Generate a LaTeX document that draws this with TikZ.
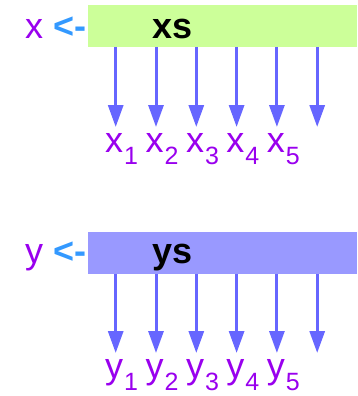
\documentclass[tikz,border=0pt]{standalone}
\usepackage{fontspec}
\setmainfont{Liberation Sans}
\usetikzlibrary{arrows.meta}
\definecolor{listgreen}{HTML}{CCFF99}
\definecolor{listblue}{HTML}{9999FF}
\definecolor{arrowblue}{HTML}{6666FF}
\definecolor{varpurple}{HTML}{9900EE}
\definecolor{opblue}{HTML}{3399FF}
\newcommand{\bigfont}{\fontsize{36}{36}\selectfont}
\newcommand{\subfont}{\fontsize{25}{25}\selectfont}
\newcommand{\elem}[2]{#1\hspace{1pt}{\subfont\raisebox{-12pt}{#2}}}

\begin{document}
\begin{tikzpicture}[x=1pt, y=-1pt,
  listbox/.style={inner sep=0pt, anchor=north west, minimum height=42pt, minimum width=269pt},
  lbl/.style={inner sep=0pt, anchor=base west, text=varpurple, font=\bigfont},
  unpack/.style={draw=arrowblue, line width=3pt, -{Triangle[width=15pt,length=22pt]}}]
\useasboundingbox (0,0) rectangle (357,396);

% x <- xs
\node[listbox, fill=listgreen]            (xs)   at (88,5)   {};
\node[inner sep=0pt, anchor=base west, font=\bigfont\bfseries] (xsname) at (152,38) {xs};
\node[lbl]                                (xvar) at (25,38)  {x \textcolor{opblue}{\bfseries<-}};

\node[lbl] (x1) at (105,152) {\elem{x}{1}};
\node[lbl] (x2) at (145.4,152) {\elem{x}{2}};
\node[lbl] (x3) at (185.8,152) {\elem{x}{3}};
\node[lbl] (x4) at (226.2,152) {\elem{x}{4}};
\node[lbl] (x5) at (266.6,152) {\elem{x}{5}};

\foreach \i in {0,...,5}{
  \coordinate (xa\i) at (115.7+40.3*\i,47);
  \coordinate (xb\i) at (115.7+40.3*\i,127);
  \draw[unpack] (xa\i) -- (xb\i);
}

% y <- ys
\node[listbox, fill=listblue]             (ys)   at (88,232) {};
\node[inner sep=0pt, anchor=base west, font=\bigfont\bfseries] (ysname) at (152,263) {ys};
\node[lbl]                                (yvar) at (25,263) {y \textcolor{opblue}{\bfseries<-}};

\node[lbl] (y1) at (105,378) {\elem{y}{1}};
\node[lbl] (y2) at (145.4,378) {\elem{y}{2}};
\node[lbl] (y3) at (185.8,378) {\elem{y}{3}};
\node[lbl] (y4) at (226.2,378) {\elem{y}{4}};
\node[lbl] (y5) at (266.6,378) {\elem{y}{5}};

\foreach \i in {0,...,5}{
  \coordinate (ya\i) at (115.7+40.3*\i,274);
  \coordinate (yb\i) at (115.7+40.3*\i,353);
  \draw[unpack] (ya\i) -- (yb\i);
}
\end{tikzpicture}
\end{document}
